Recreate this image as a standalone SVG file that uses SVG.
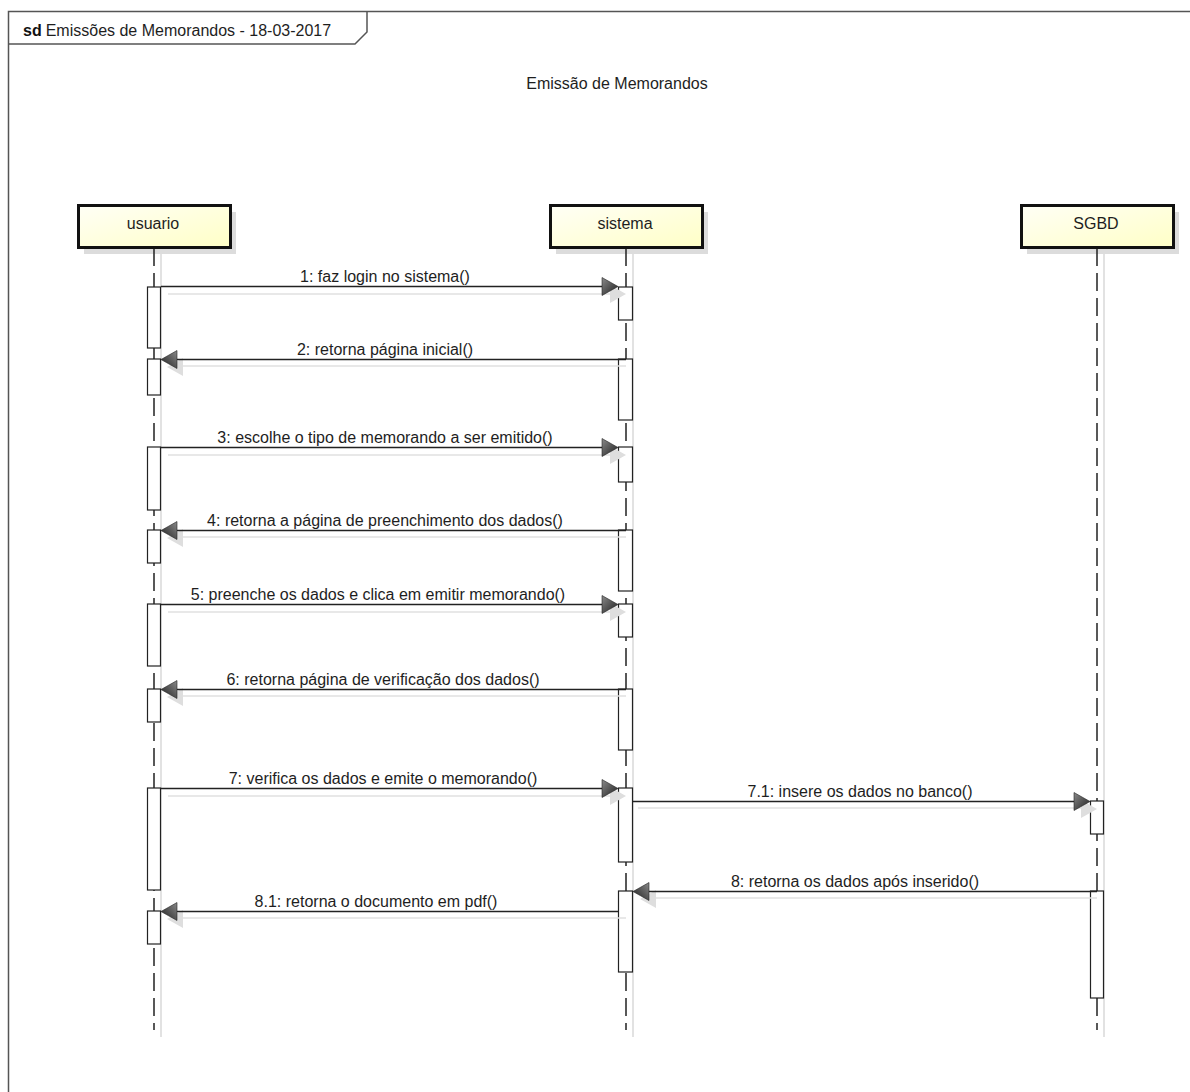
<svg xmlns="http://www.w3.org/2000/svg" width="1190" height="1092" viewBox="0 0 1190 1092">
  <style>
    text { font-family: "Liberation Sans", Arial, sans-serif; font-size: 16px; fill: #1e1e1e; }
    .frame { fill: none; stroke: #555; stroke-width: 1.5; }
    .head { fill: url(#headFill); stroke: #111; stroke-width: 3; }
    .headShadow { fill: #dcdcdc; }
    .lifeShadow { stroke: #e2e2e2; stroke-width: 2; }
    .life { stroke: #222; stroke-width: 1.5; stroke-dasharray: 18 7; }
    .bar { fill: #fff; stroke: #222; stroke-width: 1.2; }
    .msg { stroke: #222; stroke-width: 1.6; }
    .msgShadow { stroke: #e0e0e0; stroke-width: 1.6; }
    .lbl { text-anchor: middle; }
  </style>
  <defs>
    <linearGradient id="headFill" x1="0" y1="0" x2="1" y2="1">
      <stop offset="0" stop-color="#fffff6"/>
      <stop offset="1" stop-color="#ffffc6"/>
    </linearGradient>
    <linearGradient id="tipFill" x1="0" y1="0" x2="1" y2="1">
      <stop offset="0" stop-color="#8a8a8a"/>
      <stop offset="1" stop-color="#1e1e1e"/>
    </linearGradient>
    <!-- arrowhead pointing right, tip at origin -->
    <path id="tip" d="M0,0 L-16,-9 L-16,9 Z" fill="url(#tipFill)" stroke="#222" stroke-width="0.6"/>
    <path id="tipShadow" d="M0,0 L-16,-9 L-16,9 Z" fill="#dedede"/>
  </defs>

  <rect width="1190" height="1092" fill="#fff"/>

  <!-- diagram frame -->
  <g id="frame">
    <path class="frame" d="M8.5,1092 V11.5 H1190"/>
    <path class="frame" d="M8.5,44 H355 L367,32 V11.5"/>
    <text x="23" y="36"><tspan font-weight="bold" fill="#111">sd</tspan><tspan dx="4">Emissões de Memorandos - 18-03-2017</tspan></text>
  </g>

  <text id="title" x="617" y="89" text-anchor="middle">Emissão de Memorandos</text>

  <!-- lifelines -->
  <g id="usuario">
    <rect class="headShadow" x="84" y="212" width="152" height="42"/>
    <line class="lifeShadow" x1="161" y1="254" x2="161" y2="1037"/>
    <line class="life" x1="154" y1="248" x2="154" y2="1030"/>
    <rect class="head" x="78.5" y="205.5" width="152" height="42"/>
    <text x="153" y="229" text-anchor="middle">usuario</text>
    <rect class="bar" x="147.5" y="287" width="13" height="61"/>
    <rect class="bar" x="147.5" y="359" width="13" height="36"/>
    <rect class="bar" x="147.5" y="447" width="13" height="63"/>
    <rect class="bar" x="147.5" y="530" width="13" height="33"/>
    <rect class="bar" x="147.5" y="604" width="13" height="62"/>
    <rect class="bar" x="147.5" y="689" width="13" height="33"/>
    <rect class="bar" x="147.5" y="788" width="13" height="102"/>
    <rect class="bar" x="147.5" y="911" width="13" height="33"/>
  </g>

  <g id="sistema">
    <rect class="headShadow" x="556" y="212" width="152" height="42"/>
    <line class="lifeShadow" x1="633" y1="254" x2="633" y2="1037"/>
    <line class="life" x1="626" y1="248" x2="626" y2="1030"/>
    <rect class="head" x="550.5" y="205.5" width="152" height="42"/>
    <text x="625" y="229" text-anchor="middle">sistema</text>
    <rect class="bar" x="618.5" y="287" width="14" height="33"/>
    <rect class="bar" x="618.5" y="359" width="14" height="61"/>
    <rect class="bar" x="618.5" y="447" width="14" height="35"/>
    <rect class="bar" x="618.5" y="530" width="14" height="61"/>
    <rect class="bar" x="618.5" y="604" width="14" height="33"/>
    <rect class="bar" x="618.5" y="689" width="14" height="61"/>
    <rect class="bar" x="618.5" y="788" width="14" height="74"/>
    <rect class="bar" x="618.5" y="891" width="14" height="81"/>
  </g>

  <g id="SGBD">
    <rect class="headShadow" x="1027" y="212" width="152" height="42"/>
    <line class="lifeShadow" x1="1104" y1="254" x2="1104" y2="1037"/>
    <line class="life" x1="1097" y1="248" x2="1097" y2="1030"/>
    <rect class="head" x="1021.5" y="205.5" width="152" height="42"/>
    <text x="1096" y="229" text-anchor="middle">SGBD</text>
    <rect class="bar" x="1090.5" y="801" width="13" height="33"/>
    <rect class="bar" x="1090.5" y="891" width="13" height="107"/>
  </g>

  <!-- messages -->
  <g id="connectors">
    <g id="m1">
      <line class="msgShadow" x1="168" y1="294" x2="612" y2="294"/>
      <use href="#tipShadow" transform="translate(626,294)"/>
      <line class="msg" x1="161" y1="286.5" x2="604" y2="286.5"/>
      <use href="#tip" transform="translate(618,286.5)"/>
      <text class="lbl" x="385" y="282">1: faz login no sistema()</text>
    </g>
    <g id="m2">
      <line class="msgShadow" x1="626" y1="366" x2="180" y2="366"/>
      <use href="#tipShadow" transform="translate(167,367) scale(-1,1)"/>
      <line class="msg" x1="626" y1="359.5" x2="175" y2="359.5"/>
      <use href="#tip" transform="translate(161,359.5) scale(-1,1)"/>
      <text class="lbl" x="385" y="355">2: retorna página inicial()</text>
    </g>
    <g id="m3">
      <line class="msgShadow" x1="168" y1="455" x2="612" y2="455"/>
      <use href="#tipShadow" transform="translate(626,455)"/>
      <line class="msg" x1="161" y1="447.5" x2="604" y2="447.5"/>
      <use href="#tip" transform="translate(618,447.5)"/>
      <text class="lbl" x="385" y="443">3: escolhe o tipo de memorando a ser emitido()</text>
    </g>
    <g id="m4">
      <line class="msgShadow" x1="626" y1="537" x2="180" y2="537"/>
      <use href="#tipShadow" transform="translate(167,538) scale(-1,1)"/>
      <line class="msg" x1="626" y1="530.5" x2="175" y2="530.5"/>
      <use href="#tip" transform="translate(161,530.5) scale(-1,1)"/>
      <text class="lbl" x="385" y="526">4: retorna a página de preenchimento dos dados()</text>
    </g>
    <g id="m5">
      <line class="msgShadow" x1="168" y1="612" x2="612" y2="612"/>
      <use href="#tipShadow" transform="translate(626,612)"/>
      <line class="msg" x1="161" y1="604.5" x2="604" y2="604.5"/>
      <use href="#tip" transform="translate(618,604.5)"/>
      <text class="lbl" x="378" y="600">5: preenche os dados e clica em emitir memorando()</text>
    </g>
    <g id="m6">
      <line class="msgShadow" x1="626" y1="696" x2="180" y2="696"/>
      <use href="#tipShadow" transform="translate(167,697) scale(-1,1)"/>
      <line class="msg" x1="626" y1="689.5" x2="175" y2="689.5"/>
      <use href="#tip" transform="translate(161,689.5) scale(-1,1)"/>
      <text class="lbl" x="383" y="685">6: retorna página de verificação dos dados()</text>
    </g>
    <g id="m7">
      <line class="msgShadow" x1="168" y1="796" x2="612" y2="796"/>
      <use href="#tipShadow" transform="translate(626,796)"/>
      <line class="msg" x1="161" y1="788.5" x2="604" y2="788.5"/>
      <use href="#tip" transform="translate(618,788.5)"/>
      <text class="lbl" x="383" y="784">7: verifica os dados e emite o memorando()</text>
    </g>
    <g id="m7_1">
      <line class="msgShadow" x1="638" y1="808" x2="1083" y2="808"/>
      <use href="#tipShadow" transform="translate(1097,809)"/>
      <line class="msg" x1="633" y1="801.5" x2="1076" y2="801.5"/>
      <use href="#tip" transform="translate(1090,801.5)"/>
      <text class="lbl" x="860" y="797">7.1: insere os dados no banco()</text>
    </g>
    <g id="m8">
      <line class="msgShadow" x1="1097" y1="898" x2="653" y2="898"/>
      <use href="#tipShadow" transform="translate(640,899) scale(-1,1)"/>
      <line class="msg" x1="1097" y1="891.5" x2="647" y2="891.5"/>
      <use href="#tip" transform="translate(633,891.5) scale(-1,1)"/>
      <text class="lbl" x="855" y="887">8: retorna os dados após inserido()</text>
    </g>
    <g id="m8_1">
      <line class="msgShadow" x1="626" y1="918" x2="180" y2="918"/>
      <use href="#tipShadow" transform="translate(167,919) scale(-1,1)"/>
      <line class="msg" x1="618" y1="911.5" x2="175" y2="911.5"/>
      <use href="#tip" transform="translate(161,911.5) scale(-1,1)"/>
      <text class="lbl" x="376" y="907">8.1: retorna o documento em pdf()</text>
    </g>
  </g>
</svg>
